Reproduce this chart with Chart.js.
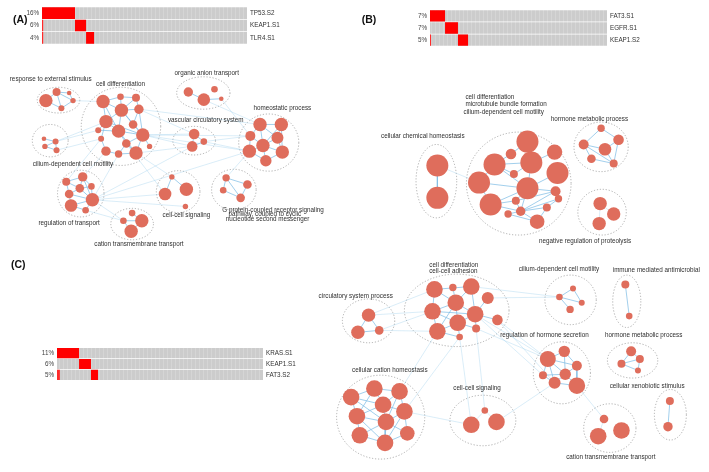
<!DOCTYPE html>
<html>
<head>
<meta charset="utf-8">
<script src="https://cdn.jsdelivr.net/npm/chart.js@4.4.1/dist/chart.umd.min.js"></script>
<style>
  html, body { margin: 0; padding: 0; background: #fff; }
  #wrap { position: relative; width: 709px; height: 472px; overflow: hidden; }
  #wrap canvas { position: absolute; }
</style>
</head>
<body>
<div id="wrap">
  <canvas id="net" width="709" height="472" style="left:0;top:0"></canvas>
  <canvas id="oncoA" width="300" height="51" style="left:0;top:0"></canvas>
  <canvas id="oncoB" width="290" height="50" style="left:380px;top:3px"></canvas>
  <canvas id="oncoC" width="320" height="46" style="left:0;top:341px"></canvas>
</div>
<script>
// ---- oncoprint data (percent of samples) ----
const genesA = ['TP53.S2', 'KEAP1.S1', 'TLR4.S1'];
const pctA = ['16%', '6%', '4%'];
const blocksA = [[0, 16.1], [16.1, 21.5], [21.5, 25.4]];
const sliversA = [null, [0, 0.6], [0, 0.6]];

const genesB = ['FAT3.S1', 'EGFR.S1', 'KEAP1.S2'];
const pctB = ['7%', '7%', '5%'];
const blocksB = [[0, 8.5], [8.5, 15.8], [15.8, 21.5]];
const sliversB = [null, null, [0, 0.6]];

const genesC = ['KRAS.S1', 'KEAP1.S1', 'FAT3.S2'];
const pctC = ['11%', '6%', '5%'];
const blocksC = [[0, 10.7], [10.7, 16.5], [16.5, 19.9]];
const sliversC = [null, null, [0, 1.4]];

// ---- enrichment networks: nodes [x, y, size] in layout space ----
const nodesA = [
  [36, 94, 6.7], [47, 85, 4], [60, 86, 2.3], [64, 94, 2.7], [52, 102, 3],
  [95, 95, 6.7], [113, 90, 3.3], [129, 91, 4], [114, 104, 6.7], [132, 103, 4.7],
  [98, 116, 6.7], [126, 119, 4.3], [111, 126, 6.7], [136, 130, 6.7], [90, 125, 3],
  [93, 134, 3], [119, 139, 4.3], [143, 142, 2.7], [98, 147, 4.7], [111, 150, 3.7],
  [129, 149, 6.7],
  [183, 85, 4.7], [199, 93, 6.3], [210, 82, 3.3], [217, 92, 2.3],
  [189, 129, 5.3], [187, 142, 5.3], [199, 137, 3.3],
  [257, 119, 6.7], [279, 119, 6.7], [247, 131, 5], [275, 133, 6], [260, 141, 6.7],
  [246, 147, 6.7], [280, 148, 6.7], [263, 157, 5.7],
  [34, 134, 2.3], [46, 137, 3], [35, 142, 2.7], [47, 146, 3],
  [57, 179, 4], [74, 174, 4.7], [71, 186, 4.3], [83, 184, 3.3], [60, 192, 4.3],
  [62, 204, 6.3], [84, 198, 6.7], [77, 209, 3.3],
  [125, 212, 3.3], [116, 220, 3.3], [135, 220, 6.7], [124, 231, 6.7],
  [166, 174, 2.7], [159, 192, 6.3], [181, 187, 6.7], [180, 205, 2.7],
  [222, 175, 3.7], [244, 182, 4.3], [219, 188, 3.3], [237, 196, 4.3]
];
const edgesA = [
  [0, 1], [0, 4], [1, 2], [1, 3], [1, 4], [2, 3], [3, 4],
  [5, 6], [5, 8], [5, 10], [6, 7], [6, 8], [7, 8], [7, 9], [8, 9], [8, 10], [8, 11], [8, 12],
  [8, 13], [9, 13], [10, 12], [10, 14], [10, 15], [11, 13], [12, 13], [12, 16], [13, 16],
  [13, 20], [15, 18], [16, 20], [16, 19], [18, 19], [19, 20], [12, 20], [10, 13], [14, 12],
  [5, 12], [9, 11], [13, 17],
  [21, 22], [22, 24],
  [25, 26], [25, 27], [26, 27],
  [28, 29], [28, 30], [28, 31], [28, 32], [29, 31], [29, 32], [30, 32], [30, 33], [31, 32],
  [31, 34], [32, 33], [32, 34], [32, 35], [33, 35], [34, 35], [29, 34],
  [36, 37], [37, 39], [38, 39], [37, 38],
  [40, 41], [40, 42], [40, 44], [41, 42], [41, 43], [42, 43], [42, 44], [42, 46], [43, 46],
  [44, 45], [44, 46], [45, 46], [46, 47], [45, 47], [41, 46],
  [48, 50], [49, 50], [50, 51], [49, 51],
  [52, 53], [52, 54],
  [56, 57], [56, 58], [58, 59], [56, 59], [57, 59]
];
const linksA = [
  [3, 5], [37, 14], [39, 15], [37, 10], [13, 25], [13, 26], [9, 25], [20, 26], [13, 30],
  [9, 28], [13, 33], [20, 52], [16, 53], [18, 41], [19, 46], [15, 40], [22, 28], [24, 30],
  [27, 30], [27, 33], [46, 53], [46, 55], [46, 49], [47, 49], [46, 26], [33, 56], [46, 33]
];

const nodesB = [
  [440, 162, 11], [440, 196, 11],
  [533, 137, 11], [516, 150, 5.3], [561, 148, 7.7], [499, 161, 11], [537, 159, 11],
  [564, 170, 11], [519, 171, 4], [483, 180, 11], [533, 186, 11], [562, 189, 5],
  [495, 203, 11], [521, 199, 4], [565, 197, 3.7], [526, 210, 4.7], [553, 206, 4],
  [513, 213, 3.7], [543, 221, 7.3],
  [609, 123, 3.7], [591, 140, 5], [627, 135, 5.3], [613, 145, 6.3], [599, 155, 4.3], [622, 160, 4],
  [608, 202, 6.7], [622, 213, 6.7], [607, 223, 6.7]
];
const edgesB = [
  [0, 1],
  [2, 3], [2, 6], [3, 5], [5, 6], [5, 9], [5, 10], [5, 8], [6, 10], [6, 8], [9, 10], [9, 12],
  [10, 12], [10, 13], [10, 11], [10, 15], [11, 15], [11, 14], [12, 13], [13, 15], [15, 16],
  [15, 17], [15, 18], [16, 18], [14, 15], [16, 14], [11, 13], [12, 15], [17, 18], [7, 10], [4, 6],
  [19, 20], [19, 21], [20, 22], [20, 23], [20, 24], [21, 22], [21, 24], [23, 24], [22, 24]
];
const linksB = [[0, 9], [25, 27], [25, 26]];

const nodesC = [
  [369, 319, 6.7], [358, 337, 6.7], [380, 335, 4.3],
  [437, 292, 8.3], [456, 290, 3.7], [475, 289, 8.3], [459, 306, 8.3], [492, 301, 6],
  [435, 315, 8.3], [479, 318, 8.3], [502, 324, 5.3], [461, 327, 8.3], [440, 336, 8.3],
  [480, 333, 4], [463, 342, 3.3],
  [580, 291, 3], [566, 300, 3.3], [589, 306, 3], [577, 313, 3.7],
  [634, 287, 4], [638, 320, 3.3],
  [554, 365, 8], [571, 357, 5.7], [584, 372, 5], [549, 382, 4], [572, 381, 5.7],
  [561, 390, 6], [584, 393, 8.3],
  [640, 357, 5], [649, 365, 4], [630, 370, 4], [647, 377, 3],
  [375, 396, 8.3], [401, 399, 8.3], [351, 405, 8.3], [384, 413, 8.3], [406, 420, 8.3],
  [357, 425, 8.3], [387, 431, 8.3], [360, 445, 8.3], [409, 443, 7.3], [386, 453, 8.3],
  [489, 419, 3.3], [475, 434, 8.3], [501, 431, 8.3],
  [680, 409, 4], [678, 436, 4.7],
  [612, 428, 4.3], [630, 440, 8.3], [606, 446, 8.3]
];
const edgesC = [
  [0, 1], [0, 2], [1, 2],
  [3, 6], [3, 8], [4, 6], [5, 6], [5, 9], [6, 8], [6, 9], [6, 11], [8, 9], [8, 11], [8, 12],
  [9, 11], [9, 13], [9, 10], [11, 12], [11, 13], [12, 14], [7, 9], [3, 5], [6, 12], [11, 14],
  [15, 16], [16, 18], [15, 17], [16, 17],
  [19, 20],
  [21, 22], [21, 24], [21, 25], [21, 26], [21, 23], [22, 23], [22, 25], [23, 25], [24, 26],
  [25, 26], [25, 27], [26, 27], [23, 27], [24, 25],
  [28, 29], [28, 30], [29, 30], [30, 31], [29, 31],
  [32, 33], [32, 34], [32, 35], [33, 35], [33, 36], [34, 35], [34, 37], [35, 36], [35, 37],
  [35, 38], [36, 38], [36, 40], [37, 38], [37, 39], [38, 39], [38, 40], [38, 41], [39, 41],
  [40, 41], [34, 38], [32, 37], [33, 38], [36, 41], [37, 41],
  [45, 46]
];
const linksC = [
  [0, 8], [2, 12], [0, 3], [2, 8], [7, 16], [5, 16], [10, 21], [9, 24], [13, 21], [10, 26],
  [9, 21], [12, 33], [14, 36], [14, 43], [13, 42], [27, 47], [26, 44], [36, 43], [42, 43],
  [42, 44], [47, 49]
];

// cluster outlines [cx, cy, rx, ry]
const clustersA = [
  [49, 93.5, 22, 13.5], [113.5, 121, 41, 41], [198.5, 86, 27.5, 17], [189, 136, 22, 15],
  [266, 138, 31, 30], [40.5, 136, 18.5, 17], [72, 191.5, 24, 24.5], [125, 223.5, 22, 16.5],
  [172.5, 189.5, 22.5, 22], [230, 187.5, 23, 21.5]
];
const clustersB = [
  [439, 178.5, 21, 38.5], [524, 181, 54, 54], [609, 142.5, 28, 26], [610, 211, 25, 24]
];
const clustersC = [
  [369, 325, 27, 23], [460, 314, 54, 38], [577.5, 303, 26.5, 26], [635.5, 304.5, 14.5, 27.5],
  [568.5, 379.5, 29.5, 32.5], [641.5, 366.5, 26, 18.5], [381.5, 426, 45.5, 44],
  [487, 429.5, 34, 26.5], [680.5, 423.5, 16.5, 26.5], [618, 437.5, 27, 25.5]
];

// term labels [text, x, y, align]
const termLabels = [
  ['response to external stimulus', 41, 72, 'center'],
  ['cell differentiation', 113, 77, 'center'],
  ['organic anion transport', 202, 65, 'center'],
  ['vascular circulatory system', 201, 115, 'center'],
  ['homeostatic process', 280, 102, 'center'],
  ['cilium-dependent cell motility', 64, 161, 'center'],
  ['regulation of transport', 60, 223, 'center'],
  ['cell-cell signaling', 181, 214, 'center'],
  ['cation transmembrane transport', 132, 245, 'center'],
  ['G protein-coupled receptor signaling', 270.5, 209.3, 'center'],
  ['pathway, coupled to cyclic', 262, 213.3, 'center'],
  ['nucleotide second messenger', 264.7, 218.7, 'center'],
  ['cell differentiation', 469, 90, 'left'],
  ['microtubule bundle formation', 469, 98, 'left'],
  ['cilium-dependent cell motility', 467, 106, 'left'],
  ['hormone metabolic process', 597, 114, 'center'],
  ['cellular chemical homeostasis', 425, 131, 'center'],
  ['negative regulation of proteolysis', 592.5, 241, 'center'],
  ['cell differentiation', 457, 266.7, 'center'],
  ['cell-cell adhesion', 456.5, 273.3, 'center'],
  ['cilium-dependent cell motility', 565.5, 271, 'center'],
  ['immune mediated antimicrobial', 621, 272, 'left'],
  ['circulatory system process', 394, 299, 'right'],
  ['regulation of hormone secretion', 550.5, 340, 'center'],
  ['hormone metabolic process', 653, 340, 'center'],
  ['cellular cation homeostasis', 391, 377, 'center'],
  ['cell-cell signaling', 481, 396, 'center'],
  ['cellular xenobiotic stimulus', 656.5, 394, 'center'],
  ['cation transmembrane transport', 619, 468, 'center']
];
const panelTitles = [['(A)', 2, 9.5], ['(B)', 362, 9.5], ['(C)', 0, 267]];

const FONT = '"Liberation Sans", Arial, sans-serif';

function toPoints(nodes) {
  return nodes.map(([x, y, r]) => ({ x, y, r }));
}

function edgeData(nodes, pairs) {
  const out = [];
  pairs.forEach(([a, b]) => {
    out.push({ x: nodes[a][0], y: nodes[a][1] });
    out.push({ x: nodes[b][0], y: nodes[b][1] });
    out.push({ x: nodes[b][0], y: null });
  });
  return out;
}

const clusterOutlines = {
  id: 'clusterOutlines',
  beforeDatasetsDraw(chart) {
    const { ctx, scales } = chart;
    ctx.save();
    ctx.strokeStyle = '#9a9a9a';
    ctx.lineWidth = 0.8;
    ctx.setLineDash([1.2, 1.8]);
    [...clustersA, ...clustersB, ...clustersC].forEach(([cx, cy, rx, ry]) => {
      const px = scales.x.getPixelForValue(cx);
      const py = scales.y.getPixelForValue(cy);
      const prx = Math.abs(scales.x.getPixelForValue(cx + rx) - px);
      const pry = Math.abs(scales.y.getPixelForValue(cy + ry) - py);
      ctx.beginPath();
      ctx.ellipse(px, py, prx, pry, 0, 0, Math.PI * 2);
      ctx.stroke();
    });
    ctx.restore();
  }
};

const termText = {
  id: 'termText',
  afterDatasetsDraw(chart) {
    const { ctx, scales } = chart;
    ctx.save();
    ctx.textBaseline = 'middle';
    ctx.fillStyle = '#2e2e2e';
    ctx.font = '6.3px ' + FONT;
    termLabels.forEach(([text, x, y, align]) => {
      ctx.textAlign = align;
      ctx.fillText(text, scales.x.getPixelForValue(x), scales.y.getPixelForValue(y));
    });
    ctx.font = 'bold 10.5px ' + FONT;
    ctx.fillStyle = '#111';
    ctx.textAlign = 'left';
    panelTitles.forEach(([text, x, y]) => {
      ctx.fillText(text, scales.x.getPixelForValue(x), scales.y.getPixelForValue(y));
    });
    ctx.restore();
  }
};

const allNodes = [...toPoints(nodesA), ...toPoints(nodesB), ...toPoints(nodesC)];
const innerEdges = [...edgeData(nodesA, edgesA), ...edgeData(nodesB, edgesB), ...edgeData(nodesC, edgesC)];
const crossEdges = [...edgeData(nodesA, linksA), ...edgeData(nodesB, linksB), ...edgeData(nodesC, linksC)];

new Chart(document.getElementById('net'), {
  type: 'bubble',
  data: {
    datasets: [
      {
        label: 'terms',
        data: allNodes,
        backgroundColor: '#df6d5c',
        borderWidth: 0,
        hoverRadius: 0,
        order: 0,
        clip: false
      },
      {
        type: 'line',
        label: 'within',
        data: innerEdges,
        borderColor: 'rgba(125, 188, 228, 0.8)',
        borderWidth: 0.9,
        pointRadius: 0,
        spanGaps: false,
        order: 1
      },
      {
        type: 'line',
        label: 'between',
        data: crossEdges,
        borderColor: 'rgba(150, 203, 235, 0.5)',
        borderWidth: 0.7,
        pointRadius: 0,
        spanGaps: false,
        order: 2
      }
    ]
  },
  options: {
    responsive: false,
    animation: false,
    events: [],
    layout: { padding: 0 },
    plugins: { legend: { display: false }, tooltip: { enabled: false } },
    scales: {
      x: { type: 'linear', min: 0, max: 709, display: false },
      y: { type: 'linear', min: 0, max: 472, reverse: true, display: false }
    }
  },
  plugins: [clusterOutlines, termText]
});

// faint per-sample stripes on the unaltered (grey) cells
function sampleStripes() {
  const c = document.createElement('canvas');
  c.width = 4;
  c.height = 1;
  const g = c.getContext('2d');
  g.fillStyle = '#cccccc';
  g.fillRect(0, 0, 4, 1);
  g.fillStyle = '#d5d5d5';
  g.fillRect(3, 0, 1, 1);
  return g.createPattern(c, 'repeat');
}

function createOnco(canvasId, genes, pcts, blocks, slivers, leftWidth, rightWidth) {
  const tickFont = { family: FONT, size: 6.3 };
  return new Chart(document.getElementById(canvasId), {
    type: 'bar',
    data: {
      labels: pcts,
      datasets: [
        { data: blocks, backgroundColor: '#ff0000', grouped: false, order: 0 },
        { data: slivers, backgroundColor: '#ff2a2a', grouped: false, order: 1 },
        { data: pcts.map(() => [0, 100]), backgroundColor: sampleStripes(), grouped: false, order: 2 }
      ]
    },
    options: {
      indexAxis: 'y',
      responsive: false,
      animation: false,
      events: [],
      layout: { padding: 0 },
      datasets: { bar: { barPercentage: 1, categoryPercentage: 0.94, borderWidth: 0 } },
      plugins: { legend: { display: false }, tooltip: { enabled: false } },
      scales: {
        x: { type: 'linear', min: 0, max: 100, display: false },
        y: {
          position: 'left',
          grid: { display: false, drawTicks: false },
          border: { display: false },
          ticks: { font: tickFont, color: '#444', padding: 3 },
          afterFit(scale) { scale.width = leftWidth; }
        },
        y2: {
          type: 'category',
          position: 'right',
          labels: genes,
          offset: true,
          grid: { display: false, drawTicks: false },
          border: { display: false },
          ticks: { font: tickFont, color: '#333', padding: 3 },
          afterFit(scale) { scale.width = rightWidth; }
        }
      }
    }
  });
}

createOnco('oncoA', genesA, pctA, blocksA, sliversA, 42, 53);
createOnco('oncoB', genesB, pctB, blocksB, sliversB, 50, 63);
createOnco('oncoC', genesC, pctC, blocksC, sliversC, 57, 57);
</script>
</body>
</html>
